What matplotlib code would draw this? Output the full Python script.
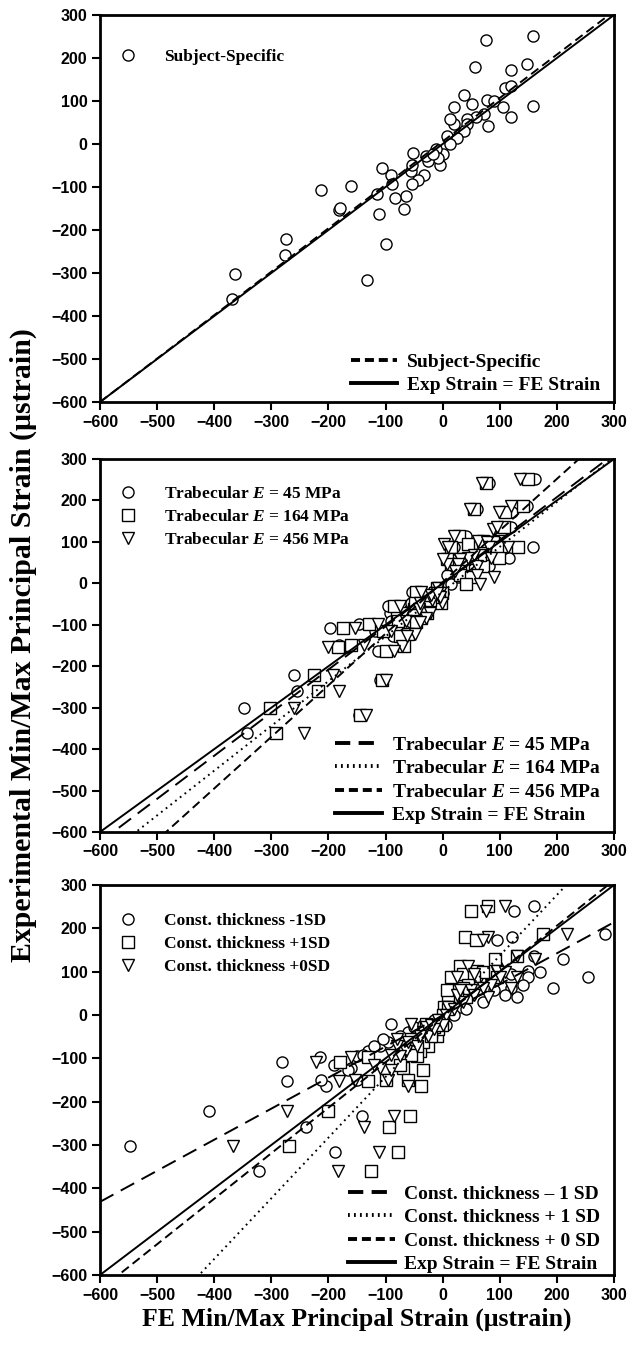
import numpy as np
import matplotlib.pyplot as plt

plt.rcParams['mathtext.fontset'] = 'custom'
plt.rcParams['mathtext.it'] = 'Liberation Serif:italic:bold'
plt.rcParams['mathtext.rm'] = 'Liberation Serif:bold'
plt.rcParams['lines.scale_dashes'] = False

# experimental strain (same gauges in every panel)
exp_strain = [241, 252, 180, 187, 173, 114, 94, 87, 102, 99, 130, 136, 88, 87, 62, 41, 69, 62, 58, 46,
              30, 46, 58, 19, 15, -1, -24, -12, -48, -32, -40, -28, -20, -71, -83, -94, -63, -48, -122, -151,
              -71, -92, -126, -55, -116, -163, -233, -317, -97, -153, -149, -108, -222, -259, -302, -360, -24]

# FE strain, subject-specific model
fe_subject = [76, 158, 57, 147, 119, 38, 52, 19, 78, 90, 110, 119, 158, 105, 120, 79, 73, 58, 42, 42,
              37, 19, 13, 7, 25, 13, 1, -11, -5, -9, -26, -29, -52, -32, -44, -53, -56, -53, -65, -67,
              -90, -88, -84, -106, -115, -111, -100, -133, -161, -181, -180, -213, -274, -276, -364, -369, -17]

# FE strain, trabecular modulus variations
fe_tb45 = [81, 162, 60, 147, 122, 40, 55, 20, 80, 95, 112, 120, 158, 108, 117, 82, 75, 60, 44, 44,
           38, 20, 14, 8, 26, 14, 1, -11, -5, -9, -27, -30, -54, -34, -46, -55, -58, -55, -68, -70,
           -93, -90, -87, -96, -118, -114, -110, -147, -147, -168, -182, -198, -260, -255, -348, -342, -18]
fe_tb164 = [76, 150, 55, 141, 110, 28, 45, 15, 70, 88, 100, 108, 132, 95, 99, 70, 66, 52, 38, 36,
            30, 15, 8, 30, 50, 40, -2, -10, -3, -6, -22, -26, -46, -28, -38, -47, -50, -48, -60, -68,
            -80, -78, -75, -85, -104, -100, -106, -144, -129, -183, -160, -175, -225, -219, -303, -291, -14]
fe_tb456 = [69, 135, 48, 120, 99, 20, 3, 10, 62, 78, 88, 95, 115, 82, 85, 60, 55, 45, 30, 27,
            22, 8, 0, 60, 90, 66, -4, -8, -2, -4, -18, -20, -38, -22, -30, -40, -42, -40, -48, -72,
            -68, -65, -62, -75, -90, -86, -100, -135, -114, -201, -138, -153, -192, -182, -261, -243, -10]

# FE strain, constant cortical thickness variations
fe_ct_m1 = [125, 160, 122, 285, 95, 95, 120, 60, 150, 170, 211, 160, 254, 150, 193, 130, 140, 120, 90, 110,
            70, 50, 60, 30, 40, 20, 5, -15, -40, -30, -60, -50, -90, -110, -130, -150, -95, -75, -160, -150,
            -120, -140, -165, -105, -190, -205, -141, -189, -215, -272, -213, -282, -410, -239, -548, -322, -35]
fe_ct_p1 = [50, 80, 39, 175, 59, 30, 35, 15, 60, 70, 92, 131, 95, 55, 60, 40, 45, 35, 20, 25,
            15, 10, 8, 3, 10, 0, -2, -5, -10, -8, -20, -15, -30, -25, -40, -45, -35, -20, -70, -60,
            -45, -55, -35, -55, -75, -38, -58, -78, -130, -131, -100, -180, -200, -94, -269, -126, -10]
fe_ct_p0 = [76, 110, 80, 218, 70, 45, 55, 25, 95, 110, 162, 130, 130, 100, 120, 80, 85, 70, 50, 55,
            35, 25, 30, 10, 20, 5, 0, -8, -25, -15, -35, -30, -55, -45, -65, -75, -60, -40, -110, -95,
            -80, -90, -90, -80, -120, -60, -85, -112, -160, -181, -154, -222, -273, -137, -367, -183, -20]

# regression lines (slope, intercept)
fit_subject = (1.01, 6)
fit_tb45 = (1.04, 0)
fit_tb164 = (1.08, -20)
fit_tb456 = (1.245, 3)
fit_ct_m1 = (0.717, -1)
fit_ct_p1 = (1.40, -3)
fit_ct_p0 = (1.05, -4)

ticks = [-600, -500, -400, -300, -200, -100, 0, 100, 200, 300]

serif = 'Liberation Serif'
sans = 'Liberation Sans'

fig = plt.figure(figsize=(6.36, 13.46), dpi=100)
L, W = 100 / 636, 514 / 636
rects = [(402, 387), (832, 373), (1275, 390)]
axes = [fig.add_axes([L, 1 - b / 1346, W, h / 1346]) for b, h in rects]

xl = np.array([-600, 300])


def style(ax):
    ax.set_xlim(-600, 300)
    ax.set_ylim(-600, 300)
    ax.set_xticks(ticks)
    ax.set_yticks(ticks)
    for s in ax.spines.values():
        s.set_linewidth(2)
    ax.tick_params(direction='out', length=6, width=1.5, top=False, right=False, pad=3)
    for lab in ax.get_xticklabels() + ax.get_yticklabels():
        lab.set_fontfamily(sans)
        lab.set_fontweight('bold')
        lab.set_fontsize(11.5)


def pts(ax, x, marker, label):
    ax.plot(x, exp_strain, linestyle='none', marker=marker, ms=8, mfc='white', mec='black',
            mew=1, label=label)


def fit(ax, f, ls, label):
    ax.plot(xl, f[0] * xl + f[1], color='black', lw=1.4, linestyle=ls, label=label)


def legends(ax, n_mark, top_y, bot_y):
    h, l = ax.get_legend_handles_labels()
    lg1 = ax.legend(h[:n_mark], l[:n_mark], loc='upper left', bbox_to_anchor=(0.02, top_y),
                    frameon=False, handlelength=1.0, handletextpad=1.6, labelspacing=0.38,
                    borderpad=0, prop={'family': serif, 'weight': 'bold', 'size': 12.5})
    ax.add_artist(lg1)
    lg2 = ax.legend(h[n_mark:], l[n_mark:], loc='lower right', bbox_to_anchor=(1.0, bot_y),
                    frameon=False, handlelength=2.4, handletextpad=0.5, labelspacing=0.3,
                    borderpad=0.2, prop={'family': serif, 'weight': 'bold', 'size': 14})
    for ln in lg2.get_lines():
        ln.set_linewidth(2.8)


long_dash = (0, (11, 6))
med_dash = (0, (6.5, 3.5))
dotted = (0, (1.3, 3))

# panel 1
ax = axes[0]
pts(ax, fe_subject, 'o', 'Subject-Specific')
fit(ax, fit_subject, med_dash, 'Subject-Specific')
fit(ax, (1, 0), '-', 'Exp Strain = FE Strain')
style(ax)
legends(ax, 1, 0.935, -0.015)

# panel 2
ax = axes[1]
pts(ax, fe_tb45, 'o', 'Trabecular $E$ = 45 MPa')
pts(ax, fe_tb164, 's', 'Trabecular $E$ = 164 MPa')
pts(ax, fe_tb456, 'v', 'Trabecular $E$ = 456 MPa')
fit(ax, fit_tb45, long_dash, 'Trabecular $E$ = 45 MPa')
fit(ax, fit_tb164, dotted, 'Trabecular $E$ = 164 MPa')
fit(ax, fit_tb456, med_dash, 'Trabecular $E$ = 456 MPa')
fit(ax, (1, 0), '-', 'Exp Strain = FE Strain')
style(ax)
legends(ax, 3, 0.95, -0.015)
ax.set_ylabel('Experimental Min/Max Principal Strain (\u03bcstrain)', fontfamily=serif,
              fontweight='bold', fontsize=21.5, labelpad=10)

# panel 3
ax = axes[2]
pts(ax, fe_ct_m1, 'o', 'Const. thickness -1SD')
pts(ax, fe_ct_p1, 's', 'Const. thickness +1SD')
pts(ax, fe_ct_p0, 'v', 'Const. thickness +0SD')
fit(ax, fit_ct_m1, long_dash, 'Const. thickness \u2013 1 SD')
fit(ax, fit_ct_p1, dotted, 'Const. thickness + 1 SD')
fit(ax, fit_ct_p0, med_dash, 'Const. thickness + 0 SD')
fit(ax, (1, 0), '-', 'Exp Strain = FE Strain')
style(ax)
legends(ax, 3, 0.95, -0.03)
ax.set_xlabel('FE Min/Max Principal Strain (\u03bcstrain)', fontfamily=serif,
              fontweight='bold', fontsize=18.5, labelpad=4)

fig.savefig('out.png', dpi=100)
